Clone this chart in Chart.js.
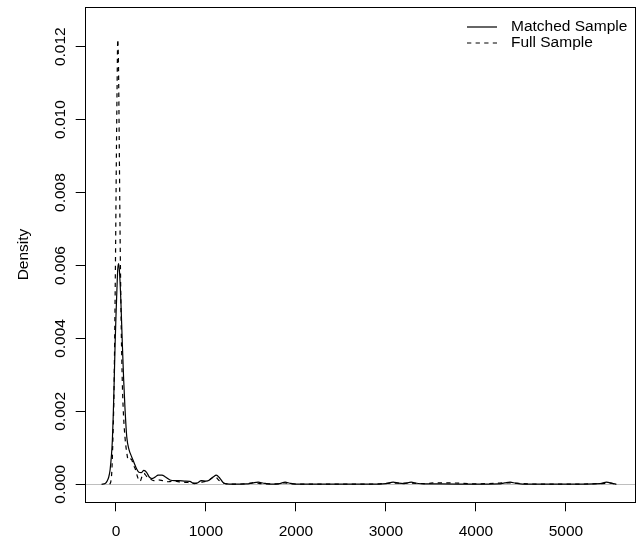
<!DOCTYPE html>
<html>
<head>
<meta charset="utf-8">
<title>Density</title>
<script src="https://cdn.jsdelivr.net/npm/chart.js@4/dist/chart.umd.min.js"></script>
<style>
  html, body { margin: 0; padding: 0; background: #fff; }
  canvas { display: block; }
</style>
</head>
<body>
<canvas id="myChart" width="637" height="548"></canvas>
<script>
// valores
var seriesNames = ['Matched Sample', 'Full Sample'];

var matchedX = [-160, -120, -100, -80, -65, -50, -40, -30, -20, -10, 0, 10, 20, 30, 40, 55, 70, 85, 100, 120,
    145, 170, 200, 230, 255, 280, 310, 340, 370, 400, 430, 470, 510, 550, 600, 650, 700, 760, 820, 870,
    900, 950, 1000, 1040, 1080, 1115, 1150, 1190, 1230, 1300, 1450, 1520, 1580, 1640, 1720, 1820, 1880, 1930, 2000, 2400,
    2800, 3000, 3080, 3140, 3200, 3280, 3340, 3420, 3600, 4000, 4250, 4320, 4380, 4440, 4520, 5000, 5380, 5450, 5510, 5560];
var matchedY = [0, 0.00002, 0.00008, 0.0002, 0.0004, 0.0008, 0.0012, 0.0019, 0.0028, 0.0038, 0.0046, 0.0053, 0.0059, 0.00605, 0.0058, 0.005, 0.0039, 0.0029, 0.0021, 0.0013,
    0.00095, 0.00078, 0.0006, 0.00042, 0.00033, 0.00032, 0.00038, 0.00033, 0.0002, 0.00016, 0.00019, 0.00025, 0.00025, 0.0002, 0.00012, 0.0001, 0.0001, 0.00009, 0.00008, 0.00002,
    0.00003, 0.0001, 0.00009, 0.00012, 0.0002, 0.00025, 0.00018, 0.00005, 0.00001, 0.000005, 0.00001, 0.00004, 0.00006, 0.00003, 0.000005, 0.00002, 0.00006, 0.00003, 0.000005, 0.000005,
    0.000005, 0.00002, 0.00006, 0.00003, 0.00002, 0.00006, 0.00003, 0.00001, 0.00001, 0.000005, 0.00001, 0.00004, 0.00006, 0.00003, 0.000005, 0.000005, 0.00002, 0.00006, 0.00003, 0];

var fullX = [-70, -55, -45, -38, -30, -22, -12, -4, 4, 12, 20, 28, 36, 44, 52, 62, 74, 86, 100, 118,
    137, 155, 174, 195, 215, 240, 267, 290, 310, 340, 378, 420, 470, 520, 580, 650, 720, 800, 870, 950,
    1020, 1070, 1100, 1140, 1200, 1300, 1500, 1540, 1600, 1800, 1870, 1920, 2100, 2600, 2900, 3050, 3250, 3450, 3550, 3700,
    4000, 4220, 4350, 4600, 5000, 5400, 5500, 5550];
var fullY = [0, 0.0001, 0.0004, 0.0009, 0.0016, 0.0025, 0.0045, 0.0065, 0.0088, 0.0108, 0.0122, 0.0115, 0.0095, 0.0073, 0.0055, 0.0038, 0.0025, 0.0018, 0.0013, 0.0009,
    0.00067, 0.0007, 0.00068, 0.00052, 0.00042, 0.0002, 0.00008, 0.00022, 0.0003, 0.00022, 0.00015, 0.0001, 0.00012, 0.0001, 0.00007, 0.00009, 0.00006, 0.00005, 0.00003, 0.00006,
    0.0001, 0.00018, 0.00022, 0.00012, 0.00003, 0.000005, 0.00003, 0.00005, 0.00002, 0.00001, 0.00004, 0.00002, 0.000005, 0.000005, 0.00001, 0.00003, 0.00003, 0.00002, 0.00004, 0.00004,
    0.00001, 0.00003, 0.00004, 0.00001, 0.000005, 0.00002, 0.00003, 0];

var xTicks = [0, 1000, 2000, 3000, 4000, 5000];
var yTicks = [0, 0.002, 0.004, 0.006, 0.008, 0.010, 0.012];

function pares(xs, ys) {
    var out = [];
    for (var i = 0; i < xs.length; i++) {
        out.push({x: xs[i], y: ys[i]});
    }
    return out;
}

var fonte = "'Liberation Sans', Arial, sans-serif";
Chart.defaults.font.family = fonte;
Chart.defaults.font.size = 15.5;
Chart.defaults.color = '#000';

// caixa, linha do zero e legenda no estilo do R
var extras = {
    id: 'extras',
    beforeDatasetsDraw: function(chart) {
        var ctx = chart.ctx;
        var a = chart.chartArea;
        var y0 = Math.round(chart.scales.y.getPixelForValue(0)) + 0.5;
        ctx.save();
        ctx.strokeStyle = '#bebebe';
        ctx.lineWidth = 1;
        ctx.beginPath();
        ctx.moveTo(a.left, y0);
        ctx.lineTo(a.right, y0);
        ctx.stroke();
        ctx.restore();
    },
    afterDraw: function(chart) {
        var ctx = chart.ctx;
        var a = chart.chartArea;
        ctx.save();
        ctx.strokeStyle = '#000';
        ctx.lineWidth = 1;
        ctx.strokeRect(Math.round(a.left) + 0.5, Math.round(a.top) + 0.5,
            Math.round(a.right - a.left) - 1, Math.round(a.bottom - a.top));
        // legenda
        var ds = chart.data.datasets;
        var x1 = a.right - 169, x2 = a.right - 139, xt = a.right - 125;
        for (var i = 0; i < ds.length; i++) {
            var yy = a.top + 20 + i * 16;
            ctx.beginPath();
            ctx.lineWidth = ds[i].borderWidth;
            ctx.setLineDash(ds[i].borderDash || []);
            ctx.moveTo(x1, yy);
            ctx.lineTo(x2, yy);
            ctx.stroke();
            ctx.setLineDash([]);
            ctx.fillStyle = '#000';
            ctx.font = '15.5px ' + fonte;
            ctx.textAlign = 'left';
            ctx.textBaseline = 'middle';
            ctx.fillText(ds[i].label, xt, yy);
        }
        ctx.restore();
    }
};

var chart = new Chart(document.getElementById('myChart').getContext('2d'), {
    type: 'line',
    data: {
        datasets: [{
            label: seriesNames[0],
            data: pares(matchedX, matchedY),
            borderColor: '#000',
            borderWidth: 1.2,
            pointRadius: 0,
            fill: false,
            cubicInterpolationMode: 'monotone'
        }, {
            label: seriesNames[1],
            data: pares(fullX, fullY),
            borderColor: '#000',
            borderWidth: 1.2,
            borderDash: [4.3, 4.3],
            pointRadius: 0,
            fill: false,
            cubicInterpolationMode: 'monotone'
        }]
    },
    options: {
        responsive: false,
        animation: false,
        layout: { padding: { top: 7, right: 1, left: 0, bottom: 0 } },
        plugins: {
            legend: { display: false },
            tooltip: { enabled: false }
        },
        scales: {
            x: {
                type: 'linear',
                min: -344,
                max: 5778,
                afterBuildTicks: function(scale) {
                    scale.ticks = xTicks.map(function(v) { return {value: v}; });
                },
                afterFit: function(scale) { scale.height = 46; },
                ticks: {
                    padding: 11,
                    maxRotation: 0,
                    callback: function(v) { return String(v); }
                },
                grid: { drawOnChartArea: false, drawTicks: true, tickLength: 9.3, tickColor: '#000', tickWidth: 1 },
                border: { display: false }
            },
            y: {
                type: 'linear',
                min: -0.000485,
                max: 0.013088,
                afterBuildTicks: function(scale) {
                    scale.ticks = yTicks.map(function(v) { return {value: v}; });
                },
                afterFit: function(scale) { scale.width = 85; },
                ticks: {
                    minRotation: 90,
                    maxRotation: 90,
                    crossAlign: 'center',
                    padding: -4.6,
                    callback: function(v) { return v.toFixed(3); }
                },
                title: {
                    display: true,
                    text: 'Density',
                    padding: { top: 14.7, bottom: 0 },
                    font: { size: 15.5 }
                },
                grid: { drawOnChartArea: false, drawTicks: true, tickLength: 9.3, tickColor: '#000', tickWidth: 1 },
                border: { display: false }
            }
        }
    },
    plugins: [extras]
});
</script>
</body>
</html>
